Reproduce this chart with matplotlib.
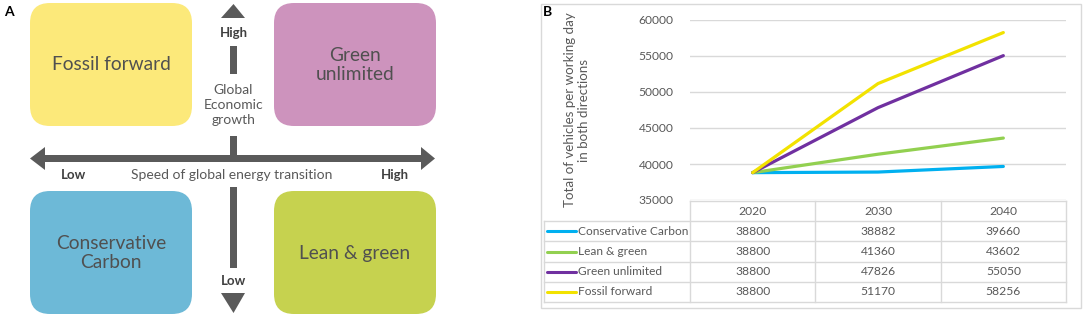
import matplotlib.pyplot as plt
from matplotlib.patches import FancyBboxPatch, Polygon, Rectangle

plt.rcParams['font.family'] = ['Lato', 'DejaVu Sans']

# panel B data
years = ['2020', '2030', '2040']
scenarios = ['Conservative Carbon', 'Lean & green', 'Green unlimited', 'Fossil forward']
conservative = [38800, 38882, 39660]
lean_green = [38800, 41360, 43602]
green_unlimited = [38800, 47826, 55050]
fossil_forward = [38800, 51170, 58256]
series = [conservative, lean_green, green_unlimited, fossil_forward]
line_colors = ['#00B0F0', '#92D050', '#7030A0', '#F2E200']
yticks = [35000, 40000, 45000, 50000, 55000, 60000]

# panel A quadrants
quad_labels = ['Fossil forward', 'Green\nunlimited', 'Conservative\nCarbon', 'Lean & green']
quad_colors = ['#FCE97A', '#CD93BD', '#6DB9D7', '#C6D24F']

W, H = 1084, 317
fig = plt.figure(figsize=(W / 100, H / 100), dpi=100)

# overlay in pixel coordinates
ov = fig.add_axes([0, 0, 1, 1])
ov.set_xlim(0, W)
ov.set_ylim(H, 0)
ov.axis('off')

txt = '#595959'
arrow = '#5A5A5A'

# ---- panel A ----
boxes = [(30, 3), (274, 3), (30, 191), (274, 191)]
for (x0, y0), lab, col in zip(boxes, quad_labels, quad_colors):
    ov.add_patch(FancyBboxPatch((x0, y0), 162, 123,
                                boxstyle='round,pad=0,rounding_size=20',
                                fc=col, ec='none'))
    ov.text(x0 + 81, y0 + 62, lab, ha='center', va='center', fontsize=13.8,
            color='#505050', linespacing=1.2)

# horizontal arrow
ov.add_patch(Rectangle((44, 155), 378, 7, fc=arrow, ec='none'))
ov.add_patch(Polygon([(30, 158.5), (45, 147), (45, 170)], fc=arrow, ec='none'))
ov.add_patch(Polygon([(435, 158.5), (421, 147), (421, 170)], fc=arrow, ec='none'))

# vertical arrow
cx = 233.5
ov.add_patch(Polygon([(cx, 4), (221, 18), (245, 18)], fc=arrow, ec='none'))
ov.add_patch(Rectangle((cx - 3.5, 46), 7, 28, fc=arrow, ec='none'))
ov.add_patch(Rectangle((cx - 3.5, 136), 7, 22, fc=arrow, ec='none'))
ov.add_patch(Rectangle((cx - 3.5, 187), 7, 81, fc=arrow, ec='none'))
ov.add_patch(Polygon([(cx, 313), (221, 293), (245, 293)], fc=arrow, ec='none'))

bold_kw = dict(ha='center', va='center', fontsize=9.5, fontweight='bold', color='#404040')
ov.text(cx, 33, 'High', **bold_kw)
ov.text(cx, 281, 'Low', **bold_kw)
ov.text(73, 175, 'Low', **bold_kw)
ov.text(395, 175, 'High', **bold_kw)
ov.text(cx, 105, 'Global\nEconomic\ngrowth', ha='center', va='center', fontsize=10,
        color=txt, linespacing=1.35)
ov.text(232, 175, 'Speed of global energy transition', ha='center', va='center',
        fontsize=10, color=txt)

ov.text(9, 12, 'A', ha='center', va='center', fontsize=10, fontweight='bold', color='black')
ov.text(548, 12, 'B', ha='center', va='center', fontsize=10, fontweight='bold', color='black')

# ---- panel B frame and table ----
grid = '#D9D9D9'
ov.add_patch(Rectangle((541, 4), 540, 304, fc='none', ec=grid, lw=1))

px0, px1 = 690, 1066
lab_x0 = 544
row_y = [201, 221.2, 241.4, 261.6, 281.8, 302]
col_w = (px1 - px0) / len(years)
col_x = [px0 + i * col_w for i in range(len(years) + 1)]

ov.plot([px0, px1], [row_y[0], row_y[0]], color=grid, lw=1)
for y in row_y[1:]:
    ov.plot([lab_x0, px1], [y, y], color=grid, lw=1)
ov.plot([lab_x0, lab_x0], [row_y[1], row_y[-1]], color=grid, lw=1)
for x in col_x:
    ov.plot([x, x], [row_y[0], row_y[-1]], color=grid, lw=1)

for j, yr in enumerate(years):
    ov.text(col_x[j] + col_w / 2, (row_y[0] + row_y[1]) / 2, yr, ha='center', va='center',
            fontsize=8.7, color=txt)
for i, (name, vals, col) in enumerate(zip(scenarios, series, line_colors)):
    yc = (row_y[i + 1] + row_y[i + 2]) / 2
    ov.plot([547, 576], [yc, yc], color=col, lw=2.2, solid_capstyle='round')
    ov.text(578, yc, name, ha='left', va='center', fontsize=8.6, color=txt)
    for j, v in enumerate(vals):
        ov.text(col_x[j] + col_w / 2, yc, str(v), ha='center', va='center',
                fontsize=8.7, color=txt)

ov.text(577, 110, 'Total of vehicles per working day\nin both directions', rotation=90,
        ha='center', va='center', fontsize=9.6, color=txt, linespacing=1.15)

# ---- line chart ----
ax = fig.add_axes([px0 / W, (H - 200) / H, (px1 - px0) / W, 180 / H])
ax.patch.set_alpha(0)
xs = list(range(len(years)))
for vals, col in zip(series, line_colors):
    ax.plot(xs, vals, color=col, lw=2.3, solid_capstyle='round')
ax.set_xlim(-0.5, len(years) - 0.5)
ax.set_ylim(yticks[0], yticks[-1])
ax.set_yticks(yticks)
ax.set_yticklabels([str(t) for t in yticks], fontsize=8.7, color=txt)
ax.set_xticks([])
ax.tick_params(axis='y', length=0, pad=12)
ax.grid(axis='y', color=grid, lw=1)
ax.set_axisbelow(True)
for s in ax.spines.values():
    s.set_visible(False)

fig.savefig('out.png', dpi=100)
